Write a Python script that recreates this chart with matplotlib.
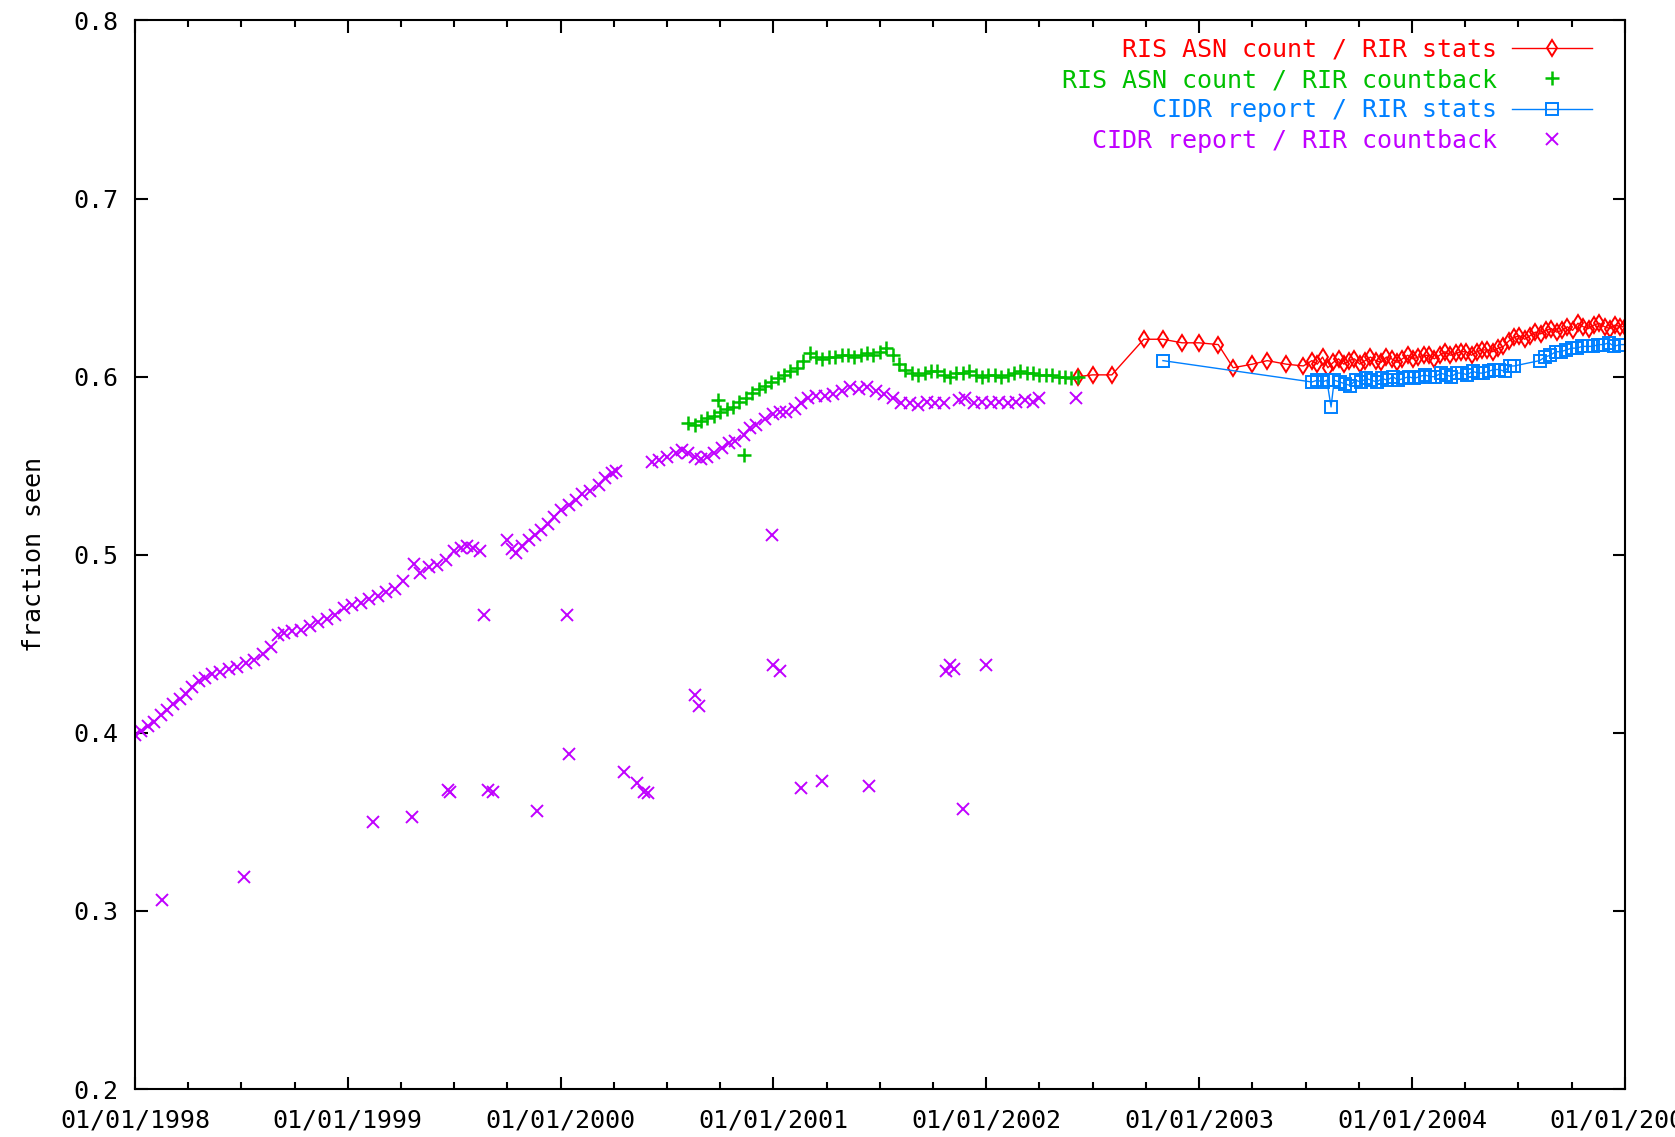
import matplotlib
matplotlib.use("Agg")
import matplotlib.pyplot as plt
from matplotlib.ticker import MultipleLocator, FuncFormatter, FormatStrFormatter

# time axis is in decimal years
# RIS ASN count / RIR stats
ris_stats_year = [2002.43, 2002.50, 2002.59, 2002.74, 2002.83, 2002.92, 2003.00, 2003.09,
                  2003.16, 2003.25, 2003.32, 2003.41, 2003.49,
                  2003.53, 2003.555, 2003.58, 2003.605, 2003.63, 2003.655, 2003.68, 2003.705,
                  2003.73, 2003.755, 2003.78, 2003.805, 2003.83, 2003.855, 2003.88, 2003.905,
                  2003.93, 2003.955, 2003.98, 2004.005, 2004.03, 2004.055, 2004.08, 2004.105,
                  2004.13, 2004.155, 2004.18, 2004.205, 2004.23, 2004.255, 2004.28, 2004.305,
                  2004.33, 2004.355, 2004.38, 2004.405, 2004.43, 2004.455, 2004.48, 2004.505,
                  2004.53, 2004.555, 2004.58, 2004.605, 2004.63, 2004.655, 2004.68, 2004.705,
                  2004.73, 2004.755, 2004.78, 2004.805, 2004.83, 2004.855, 2004.88, 2004.905,
                  2004.93, 2004.955, 2004.98, 2005.0]
ris_stats_frac = [0.600, 0.601, 0.601, 0.621, 0.621, 0.619, 0.619, 0.618,
                  0.605, 0.607, 0.609, 0.607, 0.606,
                  0.609, 0.607, 0.611, 0.605, 0.608, 0.610, 0.607, 0.609,
                  0.610, 0.607, 0.609, 0.611, 0.609, 0.608, 0.611, 0.610,
                  0.608, 0.610, 0.612, 0.610, 0.611, 0.612, 0.612, 0.610,
                  0.612, 0.614, 0.612, 0.613, 0.614, 0.614, 0.612, 0.614,
                  0.615, 0.615, 0.614, 0.616, 0.617, 0.620, 0.622, 0.623,
                  0.621, 0.623, 0.625, 0.624, 0.626, 0.627, 0.625, 0.626,
                  0.628, 0.626, 0.630, 0.628, 0.627, 0.629, 0.630, 0.628,
                  0.627, 0.629, 0.628, 0.628]

# RIS ASN count / RIR countback
ris_cb_year = [2000.60, 2000.63, 2000.66, 2000.69, 2000.72, 2000.74, 2000.75, 2000.78, 2000.81,
               2000.84, 2000.86, 2000.87, 2000.90, 2000.93, 2000.96, 2000.99, 2001.02, 2001.05,
               2001.08, 2001.11, 2001.14, 2001.17, 2001.20, 2001.23, 2001.26, 2001.29,
               2001.32, 2001.35, 2001.38, 2001.41, 2001.44, 2001.47, 2001.50, 2001.53,
               2001.56, 2001.59, 2001.62, 2001.65, 2001.68, 2001.71, 2001.74, 2001.77,
               2001.80, 2001.83, 2001.86, 2001.89, 2001.92, 2001.95, 2001.98, 2002.01,
               2002.04, 2002.07, 2002.10, 2002.13, 2002.16, 2002.19, 2002.22, 2002.25,
               2002.28, 2002.31, 2002.34, 2002.37, 2002.40, 2002.43]
ris_cb_frac = [0.574, 0.573, 0.575, 0.577, 0.578, 0.587, 0.580, 0.582, 0.583,
               0.586, 0.556, 0.588, 0.591, 0.593, 0.595, 0.597, 0.599, 0.601,
               0.603, 0.605, 0.609, 0.613, 0.611, 0.610, 0.611, 0.611,
               0.612, 0.612, 0.611, 0.612, 0.613, 0.612, 0.614, 0.616,
               0.612, 0.607, 0.604, 0.602, 0.601, 0.602, 0.603, 0.603,
               0.601, 0.600, 0.602, 0.602, 0.603, 0.601, 0.600, 0.601,
               0.601, 0.600, 0.601, 0.602, 0.603, 0.602, 0.602, 0.601,
               0.601, 0.601, 0.600, 0.600, 0.599, 0.600]

# CIDR report / RIR stats
cidr_stats_year = [2002.83, 2003.53, 2003.555, 2003.58, 2003.60, 2003.62, 2003.635, 2003.66,
                   2003.685, 2003.71, 2003.735, 2003.76, 2003.785, 2003.81, 2003.835, 2003.86,
                   2003.885, 2003.91, 2003.935, 2003.96, 2003.985, 2004.01, 2004.035, 2004.06,
                   2004.085, 2004.11, 2004.135, 2004.16, 2004.185, 2004.21, 2004.235, 2004.26,
                   2004.285, 2004.31, 2004.335, 2004.36, 2004.385, 2004.41, 2004.435, 2004.46,
                   2004.48, 2004.60, 2004.625, 2004.65, 2004.675, 2004.70, 2004.725, 2004.75,
                   2004.775, 2004.80, 2004.825, 2004.85, 2004.875, 2004.90, 2004.925, 2004.95,
                   2004.975, 2005.0]
cidr_stats_frac = [0.609, 0.597, 0.598, 0.597, 0.598, 0.583, 0.598, 0.597,
                   0.596, 0.595, 0.598, 0.597, 0.599, 0.598, 0.597, 0.599,
                   0.598, 0.600, 0.598, 0.599, 0.600, 0.599, 0.600, 0.601,
                   0.600, 0.600, 0.602, 0.601, 0.600, 0.602, 0.602, 0.601,
                   0.603, 0.602, 0.602, 0.603, 0.604, 0.604, 0.603, 0.606,
                   0.606, 0.609, 0.611, 0.612, 0.614, 0.614, 0.615, 0.616,
                   0.616, 0.617, 0.617, 0.617, 0.618, 0.618, 0.619, 0.617,
                   0.618, 0.618]

# CIDR report / RIR countback
cidr_cb_year = [1998.00, 1998.03, 1998.06, 1998.09, 1998.12, 1998.15, 1998.18, 1998.21, 1998.24,
                1998.27, 1998.30, 1998.33, 1998.36, 1998.40, 1998.44, 1998.48, 1998.52, 1998.56,
                1998.60, 1998.64, 1998.67, 1998.70, 1998.74, 1998.78, 1998.82, 1998.86, 1998.90,
                1998.94, 1998.98, 1999.02, 1999.06, 1999.10, 1999.14, 1999.18, 1999.22, 1999.26,
                1999.31, 1999.34, 1999.38, 1999.42, 1999.46, 1999.50, 1999.53, 1999.56, 1999.59,
                1999.62, 1999.75, 1999.77, 1999.79, 1999.82, 1999.85, 1999.88, 1999.91, 1999.94,
                1999.97, 2000.00, 2000.04, 2000.07, 2000.10, 2000.14, 2000.18, 2000.21, 2000.24,
                2000.26, 2000.43, 2000.46, 2000.50, 2000.54, 2000.57, 2000.60, 2000.63, 2000.66,
                2000.69, 2000.72, 2000.76, 2000.79, 2000.82, 2000.86, 2000.89, 2000.92, 2000.96,
                2001.00, 2001.03, 2001.06, 2001.10, 2001.13, 2001.16, 2001.20, 2001.24, 2001.28,
                2001.32, 2001.36, 2001.40, 2001.44, 2001.48, 2001.52, 2001.56, 2001.60, 2001.64,
                2001.68, 2001.72, 2001.76, 2001.80, 2001.87, 2001.90, 2001.94, 2001.98, 2002.02,
                2002.06, 2002.10, 2002.14, 2002.18, 2002.22, 2002.25,
                # stray low readings
                1998.125, 1998.51, 1999.12, 1999.30, 1999.47, 1999.48, 1999.64, 1999.66,
                1999.68, 1999.89, 2000.03, 2000.04, 2000.30, 2000.36, 2000.39, 2000.41,
                2000.63, 2000.65, 2000.995, 2001.00, 2001.03, 2001.13, 2001.23, 2001.45,
                2001.81, 2001.83, 2001.85, 2001.89, 2002.00, 2002.42]
cidr_cb_frac = [0.399, 0.401, 0.404, 0.406, 0.410, 0.413, 0.416, 0.419, 0.422,
                0.426, 0.429, 0.431, 0.433, 0.434, 0.436, 0.437, 0.439, 0.441,
                0.444, 0.448, 0.455, 0.456, 0.457, 0.458, 0.460, 0.462, 0.464,
                0.466, 0.470, 0.472, 0.473, 0.475, 0.477, 0.479, 0.481, 0.485,
                0.495, 0.490, 0.493, 0.494, 0.497, 0.502, 0.504, 0.505, 0.504,
                0.502, 0.508, 0.503, 0.501, 0.505, 0.508, 0.511, 0.514, 0.517,
                0.521, 0.525, 0.528, 0.531, 0.534, 0.536, 0.539, 0.543, 0.546,
                0.547, 0.552, 0.553, 0.555, 0.557, 0.559, 0.557, 0.555, 0.554,
                0.555, 0.557, 0.560, 0.563, 0.564, 0.567, 0.571, 0.573, 0.576,
                0.579, 0.580, 0.580, 0.582, 0.585, 0.588, 0.589, 0.589, 0.590,
                0.592, 0.594, 0.593, 0.594, 0.592, 0.590, 0.588, 0.585, 0.585,
                0.584, 0.586, 0.585, 0.585, 0.587, 0.588, 0.585, 0.586, 0.585,
                0.586, 0.585, 0.586, 0.587, 0.586, 0.588,
                0.306, 0.319, 0.350, 0.353, 0.368, 0.367, 0.466, 0.368,
                0.367, 0.356, 0.466, 0.388, 0.378, 0.372, 0.367, 0.366,
                0.421, 0.415, 0.511, 0.438, 0.435, 0.369, 0.373, 0.370,
                0.435, 0.438, 0.436, 0.357, 0.438, 0.588]

plt.rcParams['font.family'] = ['DejaVu Sans Mono']
plt.rcParams['font.size'] = 18

fig = plt.figure(figsize=(16.75, 11.37), dpi=100)
ax = fig.add_axes([0.0806, 0.0422, 0.8894, 0.9398])

ax.plot(ris_stats_year, ris_stats_frac, color='#ff0000', lw=1.0, marker='d',
        ms=8, mfc='none', mew=1.4, label='RIS ASN count / RIR stats')
ax.plot(ris_cb_year, ris_cb_frac, ls='none', color='#00c000', marker='+',
        ms=10, mew=1.8, label='RIS ASN count / RIR countback')
ax.plot(cidr_stats_year, cidr_stats_frac, color='#0080ff', lw=1.0, marker='s',
        ms=8, mfc='none', mew=1.4, label='CIDR report / RIR stats')
ax.plot(cidr_cb_year, cidr_cb_frac, ls='none', color='#c000ff', marker='x',
        ms=9, mew=1.4, label='CIDR report / RIR countback')

ax.set_xlim(1998, 2005)
ax.set_ylim(0.2, 0.8)
ax.xaxis.set_major_locator(MultipleLocator(1))
ax.xaxis.set_minor_locator(MultipleLocator(0.25))
ax.xaxis.set_major_formatter(FuncFormatter(lambda v, p: '01/01/%d' % round(v)))
ax.yaxis.set_major_locator(MultipleLocator(0.1))
ax.yaxis.set_major_formatter(FormatStrFormatter('%.1f'))
ax.tick_params(which='both', direction='in', top=True, right=True, width=1.5)
ax.tick_params(which='major', length=9)
ax.tick_params(which='minor', length=5)
ax.tick_params(axis='x', which='major', pad=14)
ax.tick_params(axis='y', which='major', pad=12)
for s in ax.spines.values():
    s.set_linewidth(1.5)

ax.set_ylabel('fraction seen', labelpad=20)

ax.legend(loc='upper right', frameon=False, markerfirst=False, labelcolor='linecolor',
          handlelength=3.2, handletextpad=0.6, labelspacing=0.25,
          borderaxespad=0.3, bbox_to_anchor=(0.99, 1.0))

fig.savefig('out.png', dpi=100)
